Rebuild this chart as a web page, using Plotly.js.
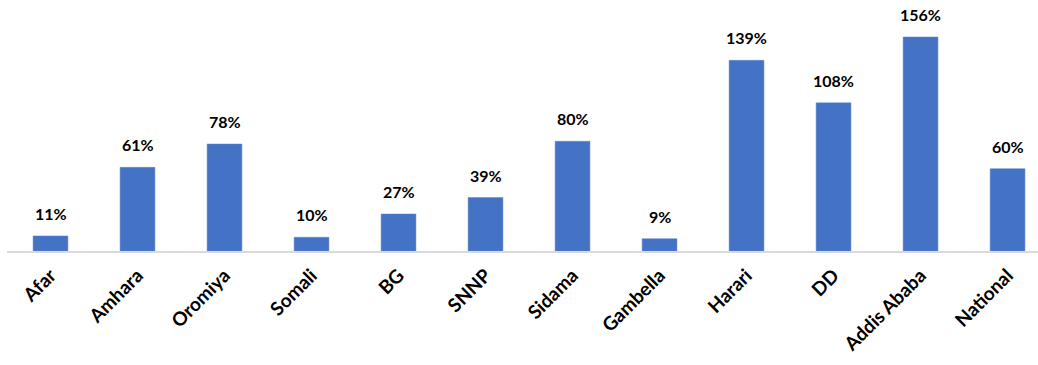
<!DOCTYPE html>
<html><head><meta charset="utf-8">
<script src="https://cdn.plot.ly/plotly-3.0.1.min.js"></script>
<style>html,body{margin:0;padding:0;background:#fff}#chart{width:1038px;height:365px}</style>
</head><body><div id="chart"></div>
<script>
const categories = ["Afar","Amhara","Oromiya","Somali","BG","SNNP","Sidama","Gambella","Harari","DD","Addis Ababa","National"];
const values = [11,61,78,10,27,39,80,9,139,108,156,60];
const labels = values.map(v => v + "%");

const fontFam = "Lato, 'Open Sans', sans-serif";
const trace = {
  type: "bar", x: categories, y: values,
  marker: {color: "#4472C4", line: {color: "#5b84cc", width: 0.5}},
  hoverinfo: "skip"
};
const annotations = categories.map((c, i) => ({
  x: c, y: values[i], text: "<b>" + labels[i] + "</b>",
  showarrow: false, yanchor: "bottom", yshift: 11,
  font: {family: fontFam, size: 16, color: "#000"}
}));
const layout = {
  width: 1038, height: 365,
  margin: {l: 7, r: 0, t: 0, b: 114},
  paper_bgcolor: "#fff", plot_bgcolor: "#fff",
  bargap: 0.6, showlegend: false,
  xaxis: {
    type: "category", range: [-0.5, 11.35], tickangle: -45,
    showline: true, linecolor: "#d9d9d9", linewidth: 2,
    ticks: "", showgrid: false, automargin: false, ticklabelstandoff: 4,
    tickfont: {family: fontFam, size: 19, color: "#000", weight: "bold"}
  },
  yaxis: {range: [0, 183], visible: false, showgrid: false, zeroline: false},
  annotations: annotations
};
Plotly.newPlot("chart", [trace], layout, {staticPlot: true, displayModeBar: false});
</script></body></html>
